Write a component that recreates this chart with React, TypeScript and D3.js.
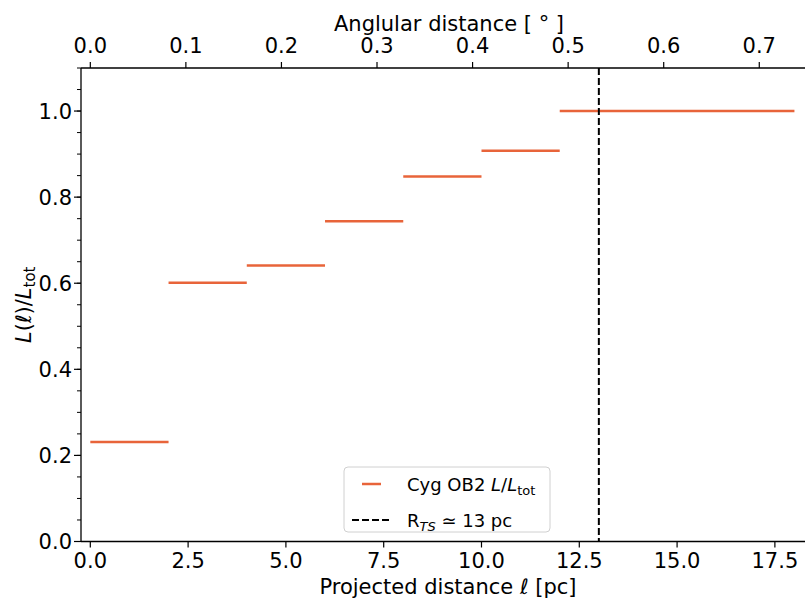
import React from "react";
import * as d3 from "d3";

const binStart = [0, 2, 4, 6, 8, 10, 12];
const binEnd = [2, 4, 6, 8, 10, 12, 18];
const lumFrac = [0.231, 0.601, 0.641, 0.744, 0.848, 0.908, 1.0];
const xTicks = [0, 2.5, 5, 7.5, 10, 12.5, 15, 17.5];
const yTicks = [0, 0.2, 0.4, 0.6, 0.8, 1.0];
const degTicks = [0, 0.1, 0.2, 0.3, 0.4, 0.5, 0.6, 0.7];
const rTS = 13;
const pcPerDeg = 24.43;

const W = 805, H = 601;
const L = 81, R = 814, T = 68, B = 541.5;
const FONT = "DejaVu Sans, sans-serif";
const ORANGE = "#e8643a";
const FS = 21;

export default function App() {
  const x = d3.scaleLinear().domain([-0.238, 18.5]).range([L, R]);
  const y = d3.scaleLinear().domain([0, 1.1]).range([B, T]);
  const minorY = d3.range(0, 1.1001, 0.05);

  return (
    <svg width={W} height={H} style={{ position: "absolute", left: 0, top: 0, background: "#fff" }} fontFamily={FONT}>
      <rect x={0} y={0} width={W} height={H} fill="#fff" />
      {binStart.map((s, i) => (
        <line key={i} x1={x(s)} x2={x(binEnd[i])} y1={y(lumFrac[i])} y2={y(lumFrac[i])} stroke={ORANGE} strokeWidth={2.5} />
      ))}
      <line x1={x(rTS)} x2={x(rTS)} y1={T} y2={B} stroke="#000" strokeWidth={2} strokeDasharray="7,3" />
      <line x1={L} x2={L} y1={T} y2={B} stroke="#000" strokeWidth={1.3} />
      <line x1={L} x2={R} y1={B} y2={B} stroke="#000" strokeWidth={1.3} />
      <line x1={L} x2={R} y1={T} y2={T} stroke="#000" strokeWidth={1.3} />
      {minorY.map((v, i) => (
        <line key={"m" + i} x1={L - 4} x2={L} y1={y(v)} y2={y(v)} stroke="#000" strokeWidth={1} />
      ))}
      {yTicks.map((v, i) => (
        <g key={"y" + i}>
          <line x1={L - 7} x2={L} y1={y(v)} y2={y(v)} stroke="#000" strokeWidth={1.2} />
          <text x={L - 9} y={y(v)} dy="0.36em" textAnchor="end" fontSize={FS}>{v.toFixed(1)}</text>
        </g>
      ))}
      {xTicks.map((v, i) => (
        <g key={"x" + i}>
          <line x1={x(v)} x2={x(v)} y1={B} y2={B + 6} stroke="#000" strokeWidth={1.2} />
          <text x={x(v)} y={568} textAnchor="middle" fontSize={FS}>{v.toFixed(1)}</text>
        </g>
      ))}
      {degTicks.map((v, i) => (
        <g key={"t" + i}>
          <line x1={x(v * pcPerDeg)} x2={x(v * pcPerDeg)} y1={T} y2={T - 6} stroke="#000" strokeWidth={1.2} />
          <text x={x(v * pcPerDeg)} y={53} textAnchor="middle" fontSize={FS}>{v.toFixed(1)}</text>
        </g>
      ))}
      <text x={449} y={31} textAnchor="middle" fontSize={FS}>Anglular distance [ ° ]</text>
      <text x={448} y={594} textAnchor="middle" fontSize={FS}>
        Projected distance <tspan fontStyle="italic">ℓ</tspan> [pc]
      </text>
      <text transform={`translate(31,${(T + B) / 2}) rotate(-90)`} textAnchor="middle" fontSize={FS}>
        <tspan fontStyle="italic">L</tspan>(<tspan fontStyle="italic">ℓ</tspan>)/<tspan fontStyle="italic">L</tspan><tspan fontSize={15} dy="4">tot</tspan>
      </text>
      <rect x={344} y={467} width={206} height={65} rx={4} fill="#fff" fillOpacity={0.8} stroke="#d0d0d0" strokeWidth={1} />
      <line x1={362} x2={381} y1={484} y2={484} stroke={ORANGE} strokeWidth={2.5} />
      <text x={407} y={485} dy="0.36em" fontSize={18}>
        Cyg OB2 <tspan fontStyle="italic">L</tspan>/<tspan fontStyle="italic">L</tspan><tspan fontSize={13} dy="4">tot</tspan>
      </text>
      <line x1={352} x2={391} y1={520} y2={520} stroke="#000" strokeWidth={2} strokeDasharray="7,3" />
      <text x={407} y={521} dy="0.36em" fontSize={18}>
        R<tspan fontSize={13} dy="4" fontStyle="italic">TS</tspan><tspan dy="-4"> ≃ 13 pc</tspan>
      </text>
    </svg>
  );
}
